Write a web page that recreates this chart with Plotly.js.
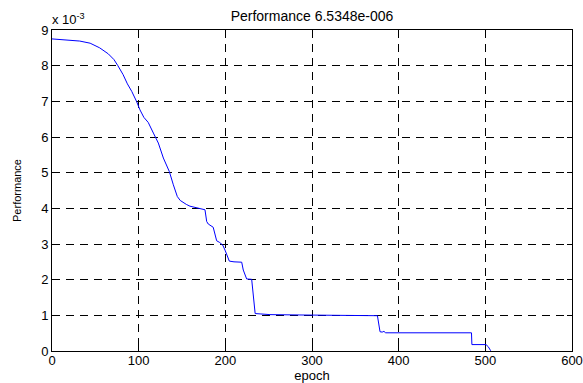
<!DOCTYPE html>
<html>
<head>
<meta charset="utf-8">
<script src="https://cdn.plot.ly/plotly-3.0.1.min.js"></script>
<style>html,body{margin:0;padding:0;background:#fff;}#chart{width:583px;height:383px;}</style>
</head>
<body>
<div id="chart"></div>
<script>
// Training performance (units of 1e-3) per epoch
var epoch = [0, 13, 32, 44, 55, 65, 71.5, 76, 82, 87, 92, 97.5, 101.5, 106, 111, 117, 122.7, 128.5, 135.4, 140, 144.6, 148, 151.5, 155, 159.2, 165, 170.8, 175.4, 176.5,
             178.5, 180.3, 186, 190, 193, 197, 199.6, 204.6, 210, 218.9, 220.7, 224.6, 230.4, 234.4, 240.2, 251.5, 286, 365, 375.5,
             378.5, 381, 383, 385, 420, 484, 484.5, 500.8, 503.4, 506.2];
var perf = [8.75, 8.73, 8.69, 8.63, 8.50, 8.33, 8.17, 8.00, 7.75, 7.49, 7.28, 7.00, 6.76, 6.55, 6.41, 6.11, 5.83, 5.41, 5.03, 4.66, 4.33, 4.22, 4.16, 4.11, 4.06, 4.03, 4.00, 3.97, 3.96,
            3.63, 3.56, 3.47, 3.09, 3.05, 2.97, 2.83, 2.52, 2.50, 2.49, 2.27, 2.02, 2.01, 1.05, 1.04, 1.02, 1.01, 1.00, 0.99,
            0.54, 0.53, 0.55, 0.51, 0.51, 0.51, 0.18, 0.18, 0.12, 0.0065];
var xTicks = [0, 100, 200, 300, 400, 500, 600];
var yTicks = [0, 1, 2, 3, 4, 5, 6, 7, 8, 9];
var titleText = 'Performance 6.5348e-006';
var xLabel = 'epoch';
var yLabel = 'Performance';
var expText = 'x 10<sup>-3</sup>';

var font = 'Arial, "Liberation Sans", Helvetica, sans-serif';

var trace = {
  x: epoch, y: perf, type: 'scatter', mode: 'lines',
  line: {color: '#0000ff', width: 1},
  hoverinfo: 'x+y'
};

var axisCommon = {
  showline: true, linecolor: '#000', linewidth: 1, mirror: 'ticks',
  ticks: 'inside', ticklen: 5, tickcolor: '#000', tickwidth: 1,
  showgrid: true, gridcolor: '#000', gridwidth: 1, griddash: '8px,6px',
  zeroline: false, tickfont: {family: font, size: 13, color: '#000'},
  automargin: false, fixedrange: true
};

var layout = {
  width: 583, height: 383,
  margin: {l: 52, r: 11, t: 30, b: 32},
  paper_bgcolor: '#fff', plot_bgcolor: '#fff',
  showlegend: false,
  title: {text: titleText, font: {family: font, size: 14, color: '#000'},
          x: 0.5, xref: 'paper', xanchor: 'center', y: 1 - 16/383, yref: 'container', yanchor: 'middle'},
  xaxis: Object.assign({}, axisCommon, {
    range: [0, 600], tickvals: xTicks, ticktext: xTicks.map(String),
    ticklabelstandoff: -3,
    title: {text: xLabel, font: {family: font, size: 13, color: '#000'}, standoff: 3}
  }),
  yaxis: Object.assign({}, axisCommon, {
    range: [0, 9], tickvals: yTicks, ticktext: yTicks.map(String),
    title: {text: yLabel, font: {family: font, size: 11, color: '#000'}, standoff: 17}
  }),
  annotations: [{
    text: expText, xref: 'paper', yref: 'paper', x: 0, y: 1, xanchor: 'left', yanchor: 'bottom',
    showarrow: false, font: {family: font, size: 13, color: '#000'}, xshift: -2, yshift: 1
  }]
};

Plotly.newPlot('chart', [trace], layout, {displayModeBar: false, staticPlot: true});
</script>
</body>
</html>
